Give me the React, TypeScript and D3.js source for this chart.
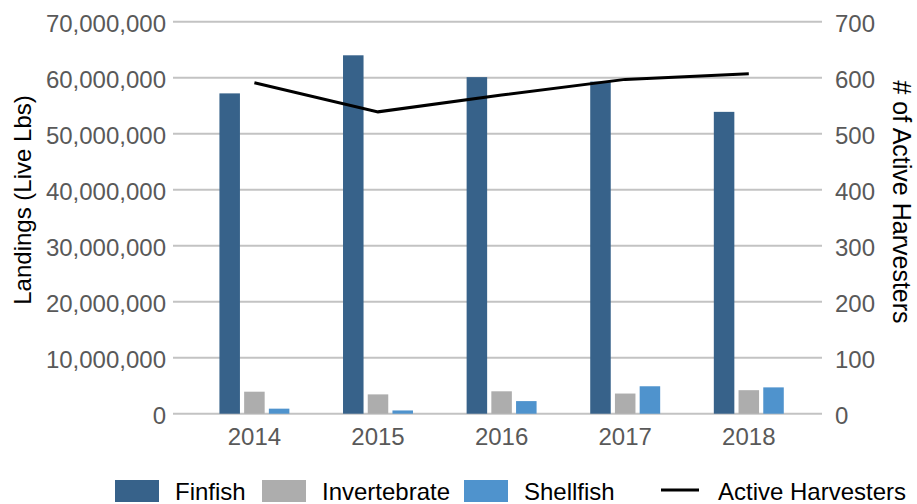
import * as React from "react";
import * as d3 from "d3";

const YEARS = ["2014", "2015", "2016", "2017", "2018"];
const SERIES = ["Finfish", "Invertebrate", "Shellfish"];
const FINFISH = [57200000, 64000000, 60100000, 59300000, 53900000];
const INVERTEBRATE = [3930000, 3450000, 4000000, 3600000, 4200000];
const SHELLFISH = [900000, 580000, 2250000, 4900000, 4700000];
const HARVESTERS = [591, 539, 569, 597, 607];
const LEFT_TICKS = [0, 10000000, 20000000, 30000000, 40000000, 50000000, 60000000, 70000000];
const RIGHT_TICKS = [0, 100, 200, 300, 400, 500, 600, 700];

const COLORS = ["#37628a", "#adadad", "#4f93cd"];
const FONT = "'Liberation Sans', Arial, sans-serif";

const WIDTH = 917;
const HEIGHT = 504;

export default function App() {
  const plotLeft = 173;
  const plotRight = 822;
  const yTop = 21.7;
  const yBottom = 413.7;

  const values: Record<string, number[]> = {
    Finfish: FINFISH,
    Invertebrate: INVERTEBRATE,
    Shellfish: SHELLFISH,
  };

  const x0 = d3.scaleBand<string>().domain(YEARS).range([192.6, 810.6]).paddingInner(0.434).paddingOuter(0.217);
  const x1 = d3.scaleBand<string>().domain(SERIES).range([0, x0.bandwidth()]).paddingInner(0.17);
  const yL = d3.scaleLinear().domain([0, 70000000]).range([yBottom, yTop]);
  const yR = d3.scaleLinear().domain([0, 700]).range([yBottom, yTop]);
  const color = d3.scaleOrdinal<string, string>().domain(SERIES).range(COLORS);
  const fmt = d3.format(",");

  const line = d3
    .line<number>()
    .x((_, i) => (x0(YEARS[i]) ?? 0) + x0.bandwidth() / 2)
    .y((d) => yR(d));

  const legend = [
    { label: "Finfish", x: 115 },
    { label: "Invertebrate", x: 262 },
    { label: "Shellfish", x: 464 },
  ];

  return (
    <svg
      width={WIDTH}
      height={HEIGHT}
      style={{ position: "absolute", left: 0, top: 0, background: "#fff" }}
      fontFamily={FONT}
    >
      {LEFT_TICKS.map((t) => (
        <g key={t}>
          <line x1={plotLeft} x2={plotRight} y1={yL(t)} y2={yL(t)} stroke="#c3c3c3" strokeWidth={2} />
          <text x={166} y={yL(t) + 10} textAnchor="end" fontSize={24} fill="#595959">
            {fmt(t)}
          </text>
        </g>
      ))}
      {RIGHT_TICKS.map((t) => (
        <text key={t} x={835} y={yR(t) + 10} textAnchor="start" fontSize={24} fill="#595959">
          {t}
        </text>
      ))}

      {YEARS.map((year, i) => (
        <g key={year} transform={`translate(${x0(year)},0)`}>
          {SERIES.map((s) => (
            <rect
              key={s}
              x={x1(s)}
              y={yL(values[s][i])}
              width={x1.bandwidth()}
              height={yBottom - yL(values[s][i])}
              fill={color(s)}
            />
          ))}
          <text x={x0.bandwidth() / 2} y={445} textAnchor="middle" fontSize={24} fill="#595959">
            {year}
          </text>
        </g>
      ))}

      <path d={line(HARVESTERS) ?? undefined} fill="none" stroke="#000" strokeWidth={3} />

      <text transform="translate(31,200) rotate(-90)" textAnchor="middle" fontSize={24} fill="#000">
        Landings (Live Lbs)
      </text>
      <text transform="translate(893,202) rotate(90)" textAnchor="middle" fontSize={25} fill="#000">
        # of Active Harvesters
      </text>

      {legend.map((item, i) => (
        <g key={item.label}>
          <rect x={item.x} y={480} width={44} height={22} fill={COLORS[i]} />
          <text x={item.x + 60} y={499.5} fontSize={24} fill="#000">
            {item.label}
          </text>
        </g>
      ))}
      <line x1={661} x2={699} y1={490} y2={490} stroke="#000" strokeWidth={3} />
      <text x={718} y={499.5} fontSize={24} fill="#000">
        Active Harvesters
      </text>
    </svg>
  );
}
